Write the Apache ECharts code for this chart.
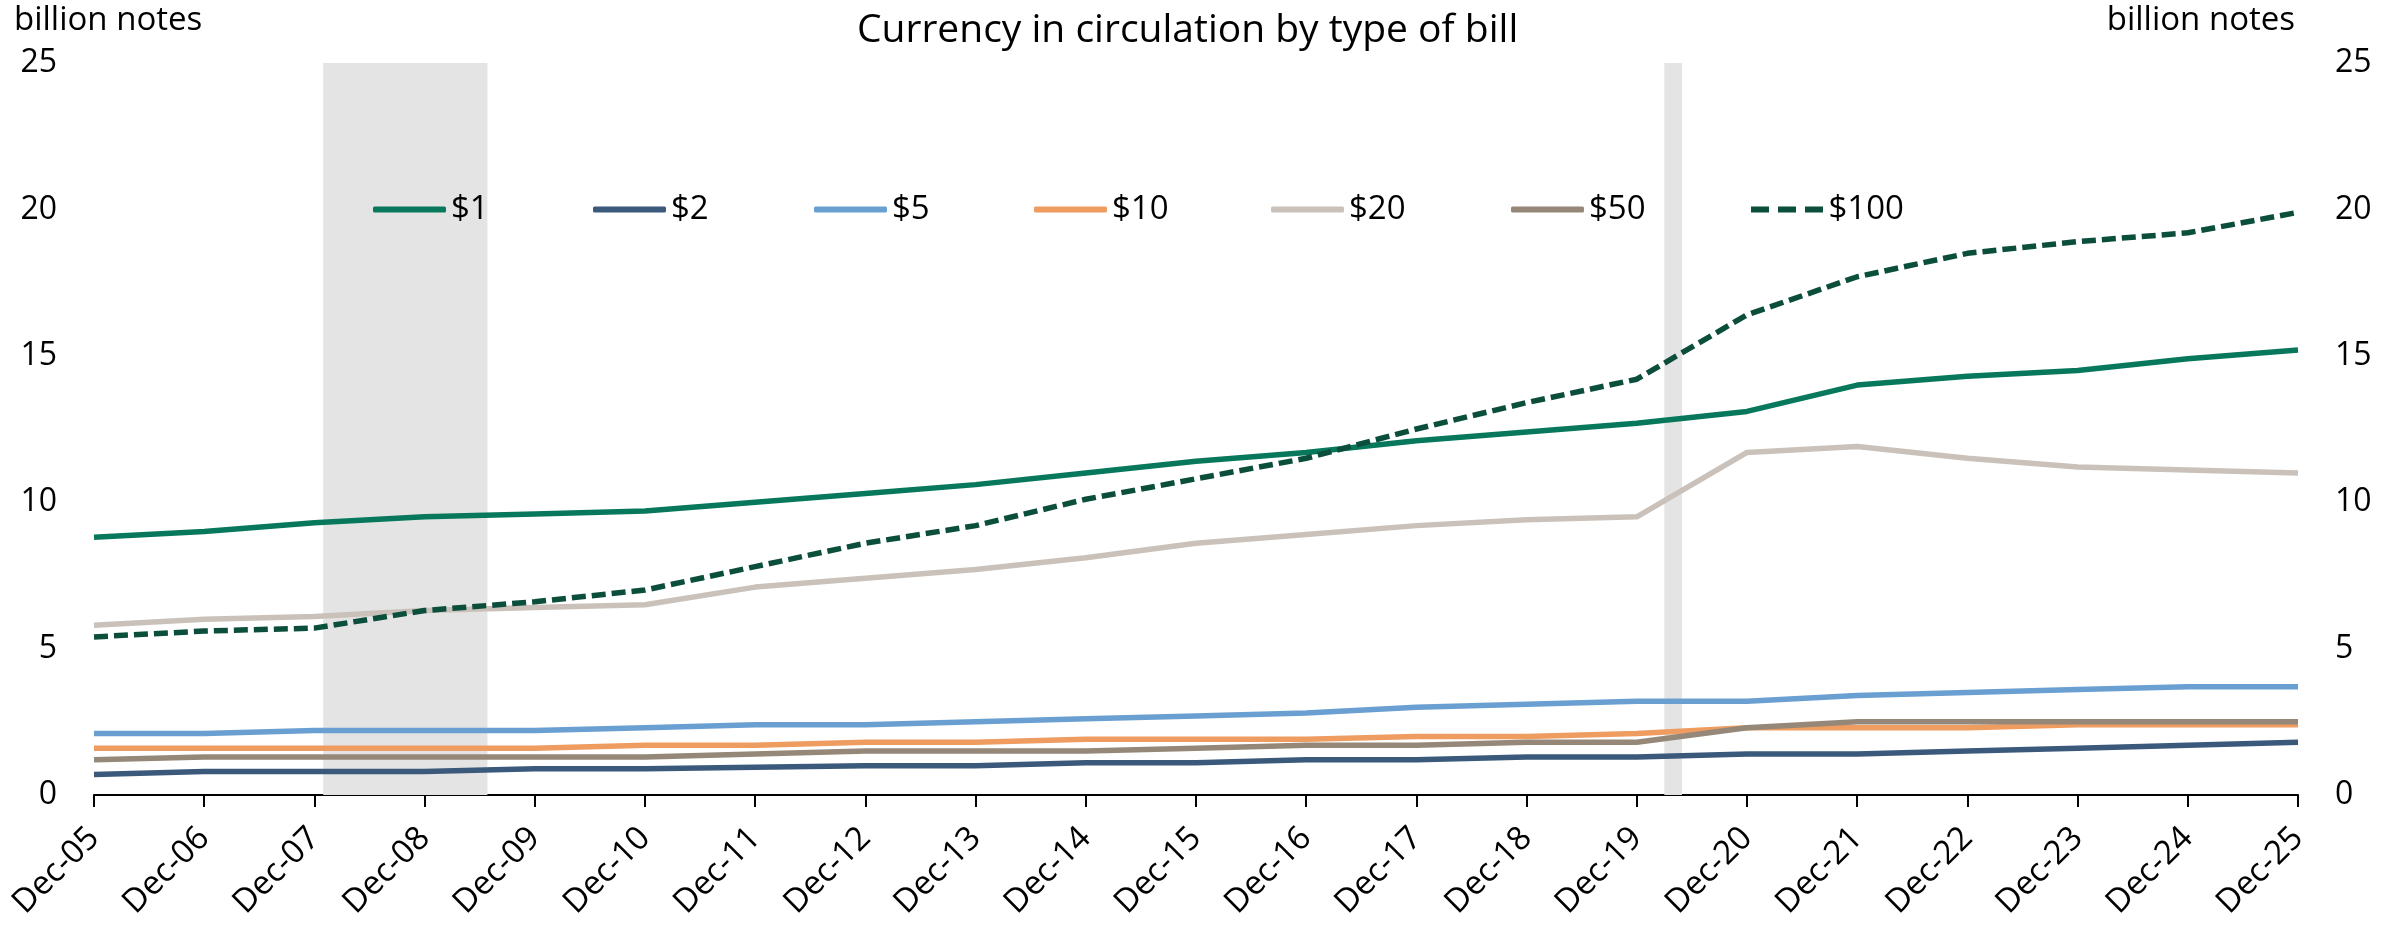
<!DOCTYPE html>
<html>
<head>
<meta charset="utf-8">
<script src="https://cdn.jsdelivr.net/npm/echarts@6/dist/echarts.min.js"></script>
<style>
  html, body { margin: 0; padding: 0; background: #fff; }
  #main { width: 2407px; height: 927px; }
</style>
</head>
<body>
<div id="main"></div>
<script>
// 数据: 年末流通纸币数量 (billion notes)
var categories = ['Dec-05','Dec-06','Dec-07','Dec-08','Dec-09','Dec-10','Dec-11','Dec-12','Dec-13','Dec-14',
                  'Dec-15','Dec-16','Dec-17','Dec-18','Dec-19','Dec-20','Dec-21','Dec-22','Dec-23','Dec-24','Dec-25'];
var bill1   = [8.8, 9.0, 9.3, 9.5, 9.6, 9.7, 10.0, 10.3, 10.6, 11.0, 11.4, 11.7, 12.1, 12.4, 12.7, 13.1, 14.0, 14.3, 14.5, 14.9, 15.2];
var bill2   = [0.7, 0.8, 0.8, 0.8, 0.9, 0.9, 0.95, 1.0, 1.0, 1.1, 1.1, 1.2, 1.2, 1.3, 1.3, 1.4, 1.4, 1.5, 1.6, 1.7, 1.8];
var bill5   = [2.1, 2.1, 2.2, 2.2, 2.2, 2.3, 2.4, 2.4, 2.5, 2.6, 2.7, 2.8, 3.0, 3.1, 3.2, 3.2, 3.4, 3.5, 3.6, 3.7, 3.7];
var bill10  = [1.6, 1.6, 1.6, 1.6, 1.6, 1.7, 1.7, 1.8, 1.8, 1.9, 1.9, 1.9, 2.0, 2.0, 2.1, 2.3, 2.3, 2.3, 2.4, 2.4, 2.4];
var bill20  = [5.8, 6.0, 6.1, 6.3, 6.4, 6.5, 7.1, 7.4, 7.7, 8.1, 8.6, 8.9, 9.2, 9.4, 9.5, 11.7, 11.9, 11.5, 11.2, 11.1, 11.0];
var bill50  = [1.2, 1.3, 1.3, 1.3, 1.3, 1.3, 1.4, 1.5, 1.5, 1.5, 1.6, 1.7, 1.7, 1.8, 1.8, 2.3, 2.5, 2.5, 2.5, 2.5, 2.5];
var bill100 = [5.4, 5.6, 5.7, 6.3, 6.6, 7.0, 7.8, 8.6, 9.2, 10.1, 10.8, 11.5, 12.5, 13.4, 14.2, 16.4, 17.7, 18.5, 18.9, 19.2, 19.9];
var yTicks = [0, 5, 10, 15, 20, 25];
// 衰退期阴影 (以 Dec-05 为 0 的年份位置)
var recessions = [[2.08, 3.57], [14.25, 14.41]];

var names  = ['$1', '$2', '$5', '$10', '$20', '$50', '$100'];
var values = [bill1, bill2, bill5, bill10, bill20, bill50, bill100];
var colors = ['#08785c', '#3b5a7b', '#6a9fd2', '#ee9c60', '#cac2ba', '#958879', '#0b4e3c'];
var legendX = [368, 588, 809, 1029, 1266, 1506, 1746];

var FONT = 'Open Sans';
var DASH_ICON = 'path://M0,0h18v6h-18z M27,0h18v6h-18z M54,0h18v6h-18z';
var myChart = echarts.init(document.getElementById('main'));

function pairs(arr) {
    return arr.map(function (v, i) { return [i, v]; });
}

var series = names.map(function (n, k) {
    var s = {
        name: n,
        type: 'line',
        symbol: 'none',
        data: pairs(values[k]),
        lineStyle: { color: colors[k], width: 5.5 },
        itemStyle: { color: colors[k] }
    };
    if (n === '$100') {
        s.lineStyle.type = [14, 6];
    }
    if (k === 0) {
        s.markArea = {
            silent: true,
            itemStyle: { color: '#e4e4e4' },
            data: recessions.map(function (r) { return [{ xAxis: r[0] }, { xAxis: r[1] }]; })
        };
    }
    return s;
});

var legends = names.map(function (n, k) {
    return {
        data: [{ name: n, icon: n === '$100' ? DASH_ICON : 'roundRect' }],
        left: legendX[k],
        top: 188,
        itemWidth: 73,
        itemHeight: 6,
        itemStyle: { color: colors[k], borderWidth: 0 },
        lineStyle: { width: 0 },
        textStyle: { fontSize: 33, color: '#000', fontFamily: FONT },
        selectedMode: false
    };
});

var yAxisBase = {
    type: 'value',
    min: 0,
    max: 25,
    interval: 5,
    axisLine: { show: false },
    axisTick: { show: false },
    splitLine: { show: false },
    axisLabel: { fontSize: 32, color: '#000', fontFamily: FONT, margin: 37 }
};

var option = {
    animation: false,
    backgroundColor: '#fff',
    textStyle: { fontFamily: FONT },
    title: {
        text: 'Currency in circulation by type of bill',
        left: 852,
        top: 6,
        textStyle: { fontSize: 39, fontWeight: 'normal', color: '#000', fontFamily: FONT }
    },
    graphic: [
        { type: 'text', left: 14, top: 4, style: { text: 'billion notes', fontSize: 33, fill: '#000', fontFamily: FONT } },
        { type: 'text', right: 112, top: 4, style: { text: 'billion notes', fontSize: 33, fill: '#000', fontFamily: FONT } }
    ],
    legend: legends,
    grid: { left: 94, right: 109, top: 63, bottom: 132 },
    xAxis: {
        type: 'value',
        min: 0,
        max: categories.length - 1,
        interval: 1,
        axisLine: { show: true, lineStyle: { color: '#000', width: 2 } },
        axisTick: { show: true, length: 12, lineStyle: { color: '#000', width: 2 } },
        splitLine: { show: false },
        axisLabel: {
            rotate: 45,
            fontSize: 33,
            color: '#000',
            fontFamily: FONT,
            margin: 38,
            formatter: function (v) { return categories[v] || ''; }
        }
    },
    yAxis: [
        Object.assign({}, yAxisBase, { position: 'left' }),
        Object.assign({}, yAxisBase, { position: 'right' })
    ],
    series: series
};

myChart.setOption(option);
</script>
</body>
</html>
